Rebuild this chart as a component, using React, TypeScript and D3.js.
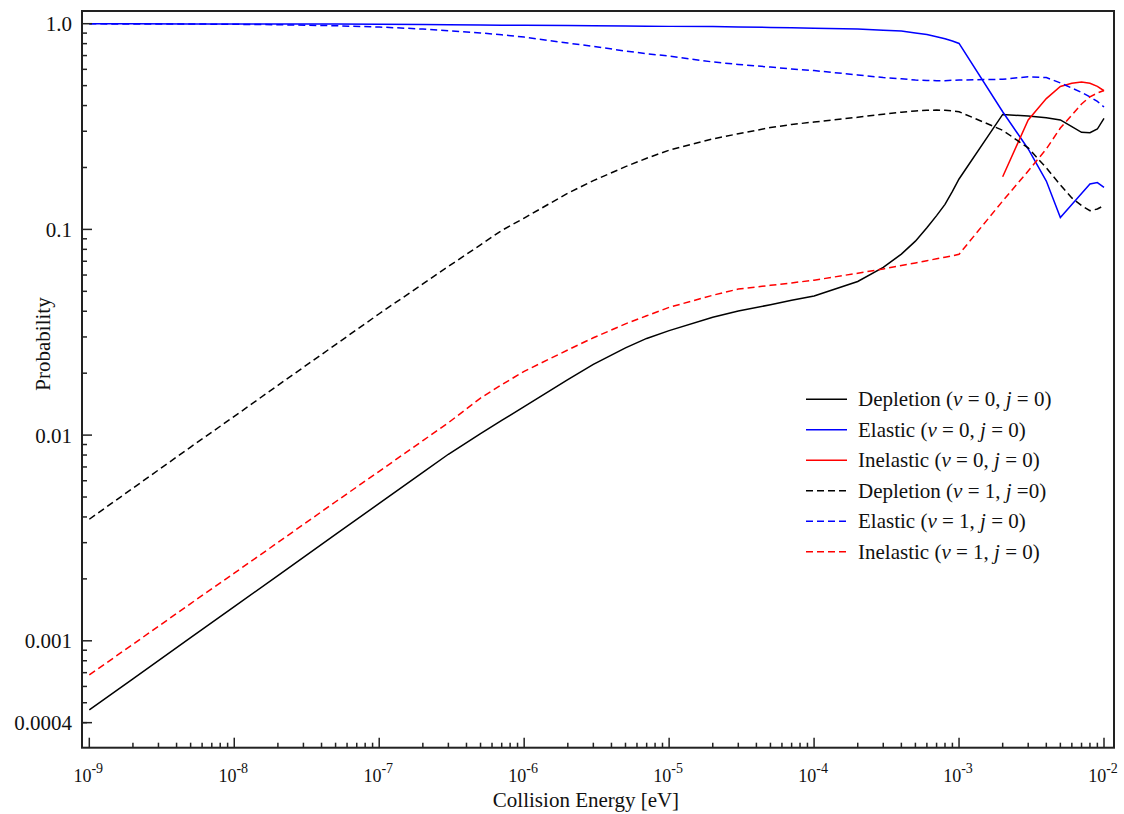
import React from 'react';
import * as d3 from 'd3';

// Collision energies [eV]
const energies = [
  1e-9, 2e-9, 5e-9, 1e-8, 2e-8, 5e-8, 1e-7, 2e-7, 3e-7, 5e-7,
  7e-7, 1e-6, 2e-6, 3e-6, 5e-6, 7e-6, 1e-5, 2e-5, 3e-5, 5e-5,
  7e-5, 1e-4, 2e-4, 3e-4, 4e-4, 5e-4, 6e-4, 7e-4, 8e-4, 9e-4,
  1e-3, 2e-3, 3e-3, 4e-3, 5e-3, 6e-3, 7e-3, 8e-3, 9e-3, 1e-2,
];

const depletionV0: (number | null)[] = [
  4.61e-4, 6.53e-4, 1.035e-3, 1.466e-3, 2.075e-3, 3.289e-3, 4.656e-3, 6.592e-3, 8.07e-3, 0.01016,
  0.0118, 0.01374, 0.01862, 0.02208, 0.02655, 0.02951, 0.03221, 0.03741, 0.04009, 0.04305,
  0.04519, 0.04742, 0.05585, 0.06531, 0.07586, 0.0877, 0.1019, 0.1167, 0.1324, 0.1531,
  0.1758, 0.3622, 0.3556, 0.3491, 0.3404, 0.3162, 0.2965, 0.2951, 0.3076, 0.3467,
];

const elasticV0: (number | null)[] = [
  0.9989, 0.9989, 0.9977, 0.9977, 0.9966, 0.9954, 0.9931, 0.9908, 0.9886, 0.9863,
  0.984, 0.9817, 0.9795, 0.9772, 0.975, 0.9727, 0.9705, 0.9683, 0.9638, 0.9594,
  0.955, 0.9506, 0.9419, 0.929, 0.9204, 0.9016, 0.8851, 0.865, 0.8453, 0.8241,
  0.8017, 0.3733, 0.246, 0.1718, 0.1143, 0.1321, 0.1493, 0.1663, 0.169, 0.16,
];

const inelasticV0: (number | null)[] = [
  null, null, null, null, null, null, null, null, null, null,
  null, null, null, null, null, null, null, null, null, null,
  null, null, null, null, null, null, null, null, null, null,
  null, 0.1803, 0.3404, 0.4325, 0.4955, 0.5129, 0.5212, 0.5129, 0.4955, 0.4721,
];

const depletionV1: (number | null)[] = [
  3.899e-3, 5.521e-3, 8.75e-3, 0.01233, 0.01746, 0.02754, 0.0389, 0.05433, 0.06607, 0.08414,
  0.09886, 0.1135, 0.15, 0.1726, 0.2018, 0.2218, 0.2427, 0.2754, 0.2917, 0.3126,
  0.3236, 0.3327, 0.3508, 0.3631, 0.3715, 0.3767, 0.3793, 0.3802, 0.3793, 0.3767,
  0.3733, 0.3034, 0.2489, 0.1991, 0.1644, 0.1422, 0.1306, 0.1233, 0.1256, 0.1306,
];

const elasticV1: (number | null)[] = [
  0.9982, 0.9977, 0.9966, 0.9931, 0.9886, 0.9772, 0.9638, 0.9419, 0.9247, 0.9016,
  0.8831, 0.861, 0.8054, 0.7762, 0.7362, 0.7145, 0.6966, 0.6516, 0.6339, 0.6152,
  0.6026, 0.5916, 0.5636, 0.547, 0.5395, 0.5321, 0.5297, 0.5284, 0.5284, 0.5309,
  0.5321, 0.537, 0.5521, 0.547, 0.5152, 0.4864, 0.4634, 0.4406, 0.4188, 0.3936,
];

const inelasticV1: (number | null)[] = [
  6.823e-4, 9.616e-4, 1.517e-3, 2.133e-3, 3.006e-3, 4.742e-3, 6.668e-3, 9.397e-3, 0.01148, 0.01514,
  0.01758, 0.02042, 0.02594, 0.02972, 0.03475, 0.03802, 0.04178, 0.04786, 0.05129, 0.05346,
  0.05495, 0.05662, 0.06124, 0.06427, 0.06683, 0.06871, 0.07047, 0.07194, 0.07328, 0.07447,
  0.07568, 0.1374, 0.1923, 0.246, 0.3112, 0.3597, 0.4074, 0.4406, 0.4603, 0.4732,
];

const yTickValues = [1, 0.1, 0.01, 0.001, 0.0004];
const yTickLabels = ['1.0', '0.1', '0.01', '0.001', '0.0004'];
const xTickExponents = [-9, -8, -7, -6, -5, -4, -3, -2];

type Series = {
  name: string;
  v: string;
  j: string;
  values: (number | null)[];
  color: string;
  dashed: boolean;
};

const series: Series[] = [
  { name: 'Depletion', v: '0', j: ' = 0', values: depletionV0, color: '#000000', dashed: false },
  { name: 'Elastic', v: '0', j: ' = 0', values: elasticV0, color: '#0000ff', dashed: false },
  { name: 'Inelastic', v: '0', j: ' = 0', values: inelasticV0, color: '#ff0000', dashed: false },
  { name: 'Depletion', v: '1', j: ' =0', values: depletionV1, color: '#000000', dashed: true },
  { name: 'Elastic', v: '1', j: ' = 0', values: elasticV1, color: '#0000ff', dashed: true },
  { name: 'Inelastic', v: '1', j: ' = 0', values: inelasticV1, color: '#ff0000', dashed: true },
];

const W = 1124;
const H = 814;
const frame = { left: 82, right: 1114, top: 11, bottom: 747.7 };
const FONT = '"Liberation Serif", "Times New Roman", Times, serif';

export default function App() {
  const x = d3.scaleLog().domain([1e-9, 1e-2]).range([89.3, 1104]);
  const y = d3.scaleLog().domain([1, 0.001]).range([23.7, 640.8]);

  const line = d3
    .line<number | null>()
    .defined((d) => d != null)
    .x((_, i) => x(energies[i]))
    .y((d) => y(d as number))
    .curve(d3.curveLinear);

  // minor ticks
  const xMinor: number[] = [];
  for (let e = -9; e < -2; e++) {
    for (let m = 2; m <= 9; m++) xMinor.push(m * Math.pow(10, e));
  }
  const yMinor: number[] = [];
  for (let e = -4; e < 0; e++) {
    for (let m = 2; m <= 9; m++) {
      const v = m * Math.pow(10, e);
      const py = y(v);
      if (py < frame.bottom - 1 && py > frame.top + 1) yMinor.push(v);
    }
  }

  const legendX = 806;
  const legendTextX = 858;
  const legendY0 = 399.3;
  const legendDy = 30.5;

  return (
    <svg
      width={W}
      height={H}
      style={{ position: 'absolute', left: 0, top: 0, background: '#fff' }}
      fontFamily={FONT}
    >
      <rect x={0} y={0} width={W} height={H} fill="#fff" />

      {/* series */}
      {series.map((s, i) => (
        <path
          key={i}
          d={line(s.values) || ''}
          fill="none"
          stroke={s.color}
          strokeWidth={1.5}
          strokeDasharray={s.dashed ? '7,4' : undefined}
        />
      ))}

      {/* frame */}
      <rect
        x={frame.left}
        y={frame.top}
        width={frame.right - frame.left}
        height={frame.bottom - frame.top}
        fill="none"
        stroke="#222"
        strokeWidth={2}
      />

      {/* x ticks */}
      {xTickExponents.map((e) => {
        const px = x(Math.pow(10, e));
        return (
          <g key={'xt' + e}>
            <line x1={px} x2={px} y1={frame.bottom} y2={frame.bottom - 10} stroke="#222" strokeWidth={1.5} />
            <text x={px - 1} y={782} textAnchor="middle" fontSize={18} fill="#111">
              <tspan>10</tspan>
              <tspan dy={-9} fontSize={14}>{`${e}`}</tspan>
            </text>
          </g>
        );
      })}
      {xMinor.map((v, i) => {
        const px = x(v);
        return <line key={'xm' + i} x1={px} x2={px} y1={frame.bottom} y2={frame.bottom - 5} stroke="#222" strokeWidth={1.5} />;
      })}

      {/* y ticks */}
      {yTickValues.map((v, i) => {
        const py = y(v);
        return (
          <g key={'yt' + i}>
            <line x1={frame.left} x2={frame.left + 10} y1={py} y2={py} stroke="#222" strokeWidth={1.5} />
            <text x={72} y={py + 7.5} textAnchor="end" fontSize={21} fill="#111">
              {yTickLabels[i]}
            </text>
          </g>
        );
      })}
      {yMinor.map((v, i) => {
        const py = y(v);
        return <line key={'ym' + i} x1={frame.left} x2={frame.left + 5} y1={py} y2={py} stroke="#222" strokeWidth={1.5} />;
      })}

      {/* axis titles */}
      <text x={586} y={807} textAnchor="middle" fontSize={21} fill="#111">
        Collision Energy [eV]
      </text>
      <text
        transform={`translate(50,344) rotate(-90)`}
        textAnchor="middle"
        fontSize={21}
        fill="#111"
      >
        Probability
      </text>

      {/* legend */}
      {series.map((s, i) => {
        const ly = legendY0 + i * legendDy;
        return (
          <g key={'lg' + i}>
            <line
              x1={legendX}
              x2={legendX + 41}
              y1={ly}
              y2={ly}
              stroke={s.color}
              strokeWidth={1.5}
              strokeDasharray={s.dashed ? '7,4' : undefined}
            />
            <text x={legendTextX} y={ly + 7} fontSize={21} fill="#111">
              <tspan>{s.name} (</tspan>
              <tspan fontStyle="italic">v</tspan>
              <tspan>{` = ${s.v}, `}</tspan>
              <tspan fontStyle="italic">j</tspan>
              <tspan>{`${s.j})`}</tspan>
            </text>
          </g>
        );
      })}
    </svg>
  );
}
